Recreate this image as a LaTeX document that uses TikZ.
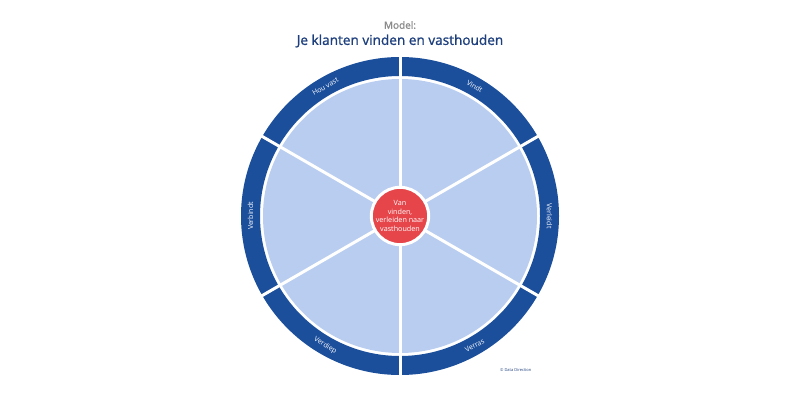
\documentclass[tikz,border=0pt]{standalone}
\usepackage{fontspec}
\setmainfont{Open Sans}
\newfontfamily\titlefont[FakeBold=1.2]{Open Sans}
\usetikzlibrary{calc}
\definecolor{ringblue}{HTML}{1B4E9B}
\definecolor{lightblue}{HTML}{B8CDF0}
\definecolor{centerred}{HTML}{E6454A}
\definecolor{titleblue}{HTML}{1E3F7D}
\definecolor{modelgray}{HTML}{8A8A8A}
\begin{document}
\begin{tikzpicture}[x=1pt,y=1pt,
  ringlabel/.style={text=white,font=\fontsize{7}{8}\selectfont,inner sep=0pt},
  divider/.style={draw=white,line width=3pt}]
\useasboundingbox (0,0) rectangle (800,400);
\coordinate (c) at (400,184);
\fill[ringblue,even odd rule] (c) circle (159) (c) circle (140);
\fill[lightblue] (c) circle (137);
\foreach \a in {30,90,150,210,270,330}{
  \coordinate (e\a) at ($(c)+(\a:161)$);
  \draw[divider] (c) -- (e\a);
}
\node[circle,fill=centerred,draw=white,line width=3pt,minimum size=56pt,inner sep=0pt,
  text=white,align=center,font=\fontsize{7.2}{8.5}\selectfont] (mid) at (c)
  {Van\\vinden,\\verleiden naar\\vasthouden};
\node[ringlabel,rotate=-30] (vindt) at ($(c)+(60:149.5)$) {Vindt};
\node[ringlabel,rotate=-90] (verleidt) at ($(c)+(0:149.5)$) {Verleidt};
\node[ringlabel,rotate=30] (verras) at ($(c)+(-60:149.5)$) {Verras};
\node[ringlabel,rotate=-30] (verdiep) at ($(c)+(-120:149.5)$) {Verdiep};
\node[ringlabel,rotate=90] (verbindt) at ($(c)+(180:149.5)$) {Verbindt};
\node[ringlabel,rotate=30] (houvast) at ($(c)+(120:149.5)$) {Hou vast};
\node[text=modelgray,font=\titlefont\fontsize{10}{12}\selectfont,inner sep=0pt] (model) at (400,375) {Model:};
\node[text=titleblue,font=\titlefont\fontsize{13.6}{16}\selectfont,inner sep=0pt] (title) at (400,359) {Je klanten vinden en vasthouden};
\node[text=titleblue,font=\fontsize{4}{5}\selectfont,inner sep=0pt,anchor=west] (copy) at (500,30) {© Data Direction};
\end{tikzpicture}
\end{document}
